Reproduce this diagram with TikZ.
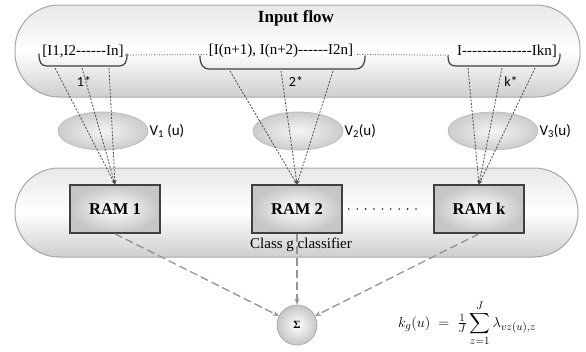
\documentclass[tikz,border=0pt]{standalone}
\usepackage{exscale}
\usepackage{fontspec}
\setmainfont{Liberation Serif}
\newfontfamily\lblfont{Carlito}
\usetikzlibrary{arrows.meta,shapes.geometric}
\begin{document}
\begin{tikzpicture}[x=1pt,y=-1pt,
  capsule/.style={draw=gray!70, line width=1pt, rounded corners=44pt,
    top color=gray!18, bottom color=gray!38, middle color=white, inner sep=0pt},
  cloud/.style={ellipse, draw=gray!55, line width=0.7pt, inner color=gray!8, outer color=gray!40,
    minimum width=90pt, minimum height=38pt, inner sep=0pt},
  rambox/.style={draw=black!75, line width=1.6pt, inner color=white, outer color=gray!45,
    minimum width=90pt, minimum height=48pt, font=\bfseries\fontsize{16.5}{18}\selectfont},
  grouptxt/.style={font=\fontsize{15}{17}\selectfont, inner sep=0pt},
  brace/.style={draw=black!75, line width=1.2pt, line cap=round},
  feed/.style={draw=gray!60!black, line width=0.8pt, dash pattern=on 2pt off 1.5pt,
    -{Stealth[length=4pt,width=3.5pt]}},
  sumline/.style={draw=gray!85, line width=1.3pt, dash pattern=on 8pt off 4pt,
    -{Stealth[length=6pt,width=5pt]}},
  vlabel/.style={font=\lblfont\fontsize{15}{17}\selectfont, inner sep=1pt},
  starlabel/.style={font=\lblfont\fontsize{14}{16}\selectfont, inner sep=0pt},
  dotline/.style={draw=black!80, line width=1pt, dash pattern=on 0pt off 2.6pt, line cap=round},
]
\useasboundingbox (0,0) rectangle (586,351);

% top capsule
\node[capsule, minimum width=565pt, minimum height=92pt] (top) at (297.5,51) {};
\node[font=\bfseries\fontsize{17}{19}\selectfont] (title) at (296,18) {Input flow};

% group texts
\node[grouptxt] (t1) at (83,51) {[I1,I2-{}-{}-{}-{}-{}-In]};
\node[grouptxt] (t2) at (281,51) {[I(n+1), I(n+2)-{}-{}-{}-{}-{}-I2n]};
\node[grouptxt] (t3) at (507,51) {I-{}-{}-{}-{}-{}-{}-{}-{}-{}-{}-{}-{}-{}-Ikn]};

\draw[dotline] ([xshift=2pt]t1.base east) -- ([xshift=-2pt]t2.base west);
\draw[dotline] ([xshift=4pt]t2.base east) -- ([xshift=-6pt]t3.base west);

% braces
\draw[brace] (39,54) .. controls (39,62) and (41,66) .. (47,66) -- (119,66) .. controls (125,66) and (127,62) .. (127,54);
\draw[brace] (200,56) .. controls (200,65) and (203,69) .. (210,69) -- (355,69) .. controls (362,69) and (365,65) .. (365,56);
\draw[brace] (448,56) .. controls (448,63) and (450,66) .. (456,66) -- (552,66) .. controls (558,66) and (560,62) .. (560,54);

\node[starlabel] (s1) at (84,82) {1*};
\node[starlabel] (s2) at (296,82) {2*};
\node[starlabel] (s3) at (511,82) {k*};

% clouds
\node[cloud] (e1) at (103,131) {};
\node[cloud] (e2) at (298,131) {};
\node[cloud] (e3) at (493,131) {};
\node[vlabel, anchor=west] (v1) at ([xshift=0pt]e1.east) {V\textsubscript{1} (u)};
\node[vlabel, anchor=west] (v2) at ([xshift=0pt]e2.east) {V\textsubscript{2}(u)};
\node[vlabel, anchor=west] (v3) at ([xshift=0pt]e3.east) {V\textsubscript{3}(u)};

% bottom capsule
\node[capsule, minimum width=563pt, minimum height=89pt] (bot) at (296.5,212.5) {};

% RAM boxes
\node[rambox] (ram1) at (115,209) {RAM 1};
\node[rambox] (ram2) at (297,209) {RAM 2};
\node[rambox] (ramk) at (479,209) {RAM k};
\draw[draw=black!85, line width=1.8pt, dash pattern=on 0pt off 8.4pt, line cap=round]
  ([xshift=6pt]ram2.east) -- ([xshift=-9pt]ramk.west);
\node[font=\fontsize{15}{17}\selectfont, inner sep=0pt] (cls) at (301,245) {Class g classifier};

% feed lines
\coordinate (a1) at (55,68);  \coordinate (b1) at (82,68);  \coordinate (c1) at (109,68);
\coordinate (a2) at (230,71); \coordinate (b2) at (281,71); \coordinate (c2) at (333,71);
\coordinate (a3) at (468,68); \coordinate (b3) at (502,68); \coordinate (c3) at (535,68);
\foreach \p in {a1,b1,c1} \draw[feed] (\p) -- (ram1.north);
\foreach \p in {a2,b2,c2} \draw[feed] (\p) -- (ram2.north);
\foreach \p in {a3,b3,c3} \draw[feed] (\p) -- (ramk.north);

% sum node
\node[circle, draw=gray!70, line width=0.7pt, inner color=white, outer color=gray!45,
  minimum size=40pt, inner sep=0pt, font=\bfseries\fontsize{11}{12}\selectfont] (sig) at (297,325) {Σ};
\draw[sumline] (ram1.south) -- (sig);
\draw[sumline] (ram2.south) -- (sig.north);
\draw[sumline] (ramk.south) -- (sig);

\node[font=\fontsize{15}{17}\selectfont, inner sep=0pt] (form) at (467,323)
  {$k_g(u)\;=\;\frac{1}{J}\displaystyle\sum_{z=1}^{J}\lambda_{vz(u),z}$};
\end{tikzpicture}
\end{document}
